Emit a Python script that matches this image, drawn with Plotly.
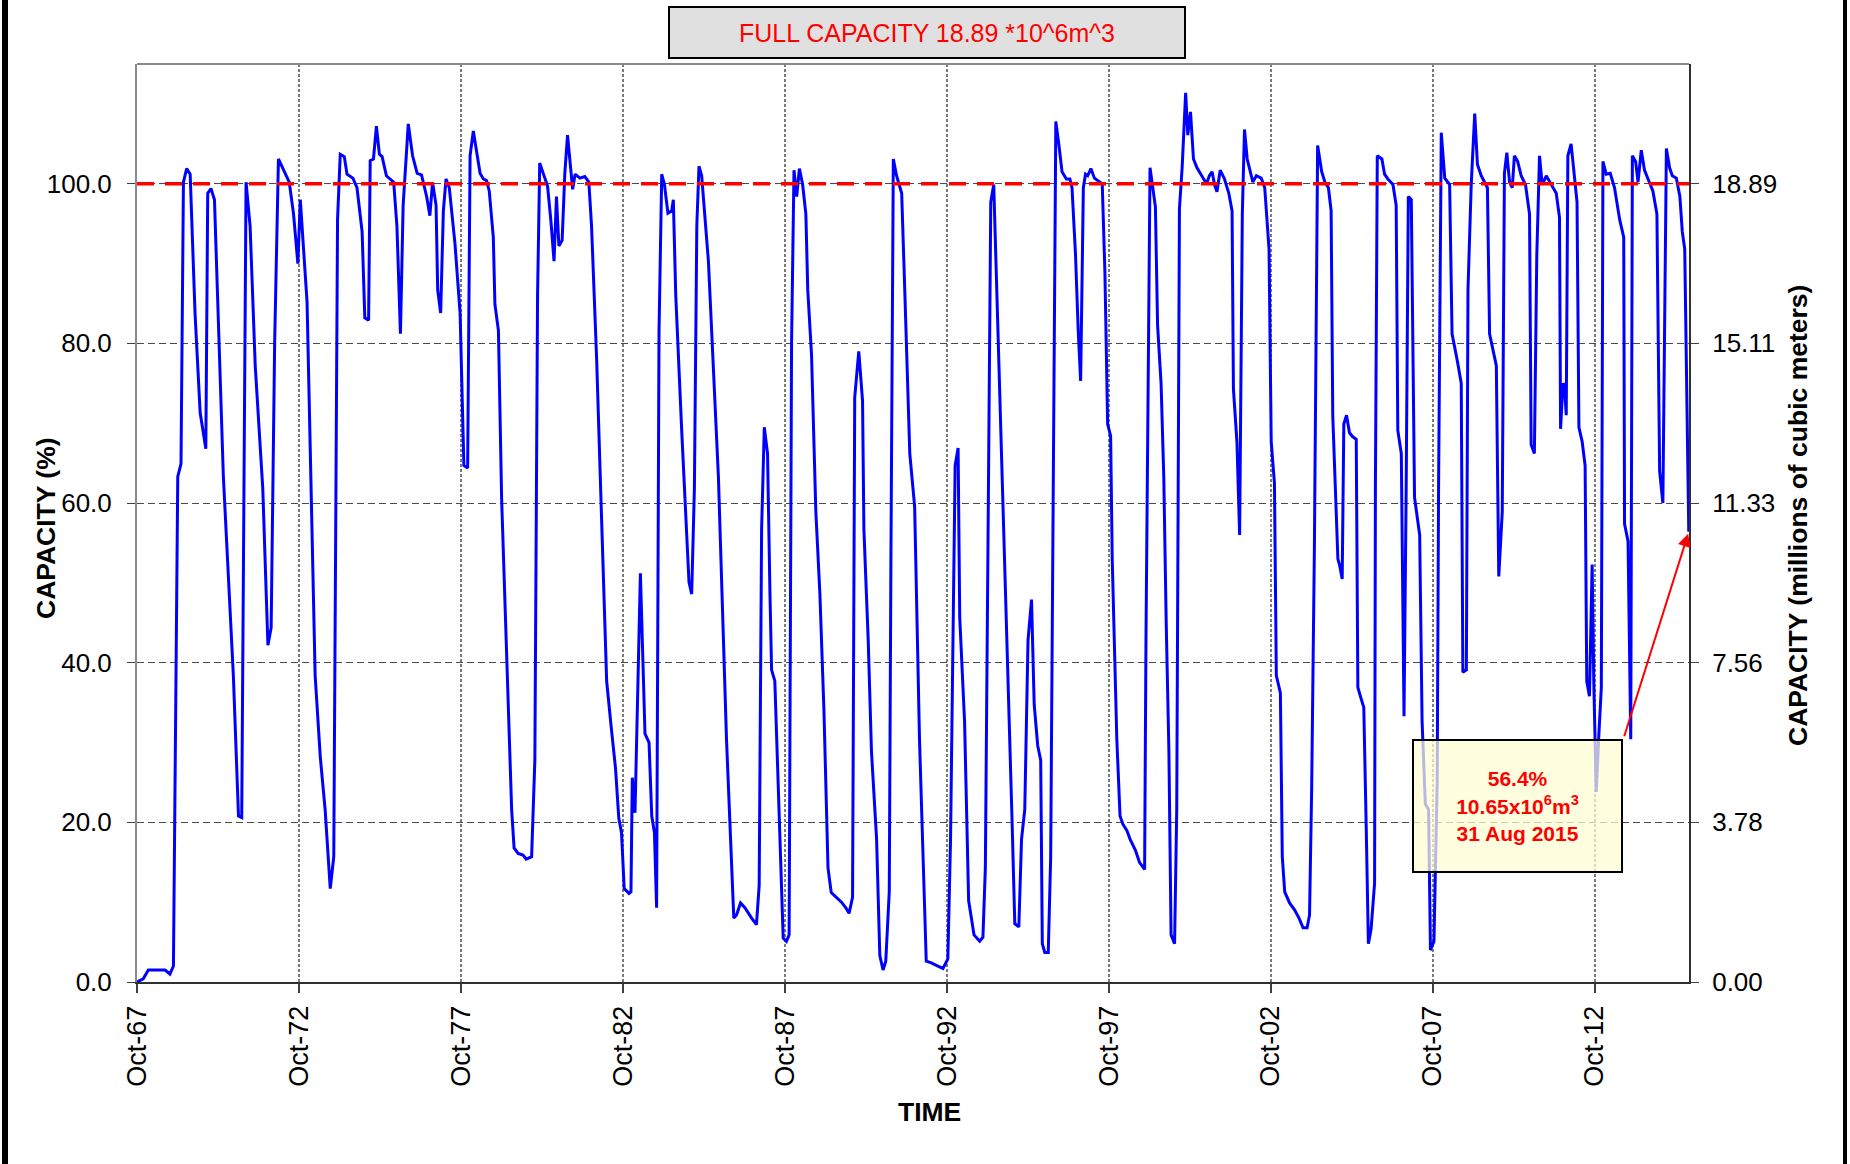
import numpy as np
import pandas as pd
import plotly.graph_objects as go

# ---------------- data ----------------
START = "1967-10-01"          # month offset 0
END = "2015-08-31"
# months elapsed since Oct-1967 at each reading
MONTHS = [
    0, 2.3, 4.2, 10.4, 12.2, 13.5, 15.1, 16.3, 17.2, 18.4,
    19.7, 21.5, 23.4, 25.5, 26.2, 27.4, 28.7, 32.0, 35.7, 37.6,
    38.8, 40.4, 41.9, 43.8, 46.6, 48.5, 49.7, 51.0, 52.4, 53.7,
    56.4, 58.0, 59.6, 60.5, 63.0, 66.0, 67.9, 69.7, 71.6, 72.9,
    74.3, 75.3, 76.8, 77.8, 80.0, 81.5, 83.4, 84.4, 85.8, 86.4,
    87.6, 88.7, 89.8, 90.8, 92.4, 95.1, 96.3, 97.6, 98.6, 100.5,
    102.1, 103.8, 105.4, 107.3, 108.5, 109.5, 110.8, 111.4, 112.5, 113.5,
    114.5, 115.7, 117.8, 119.7, 121.1, 122.5, 123.4, 124.6, 125.8, 127.1,
    128.3, 129.5, 130.5, 132.0, 132.6, 133.9, 135.1, 137.0, 138.8, 139.7,
    141.2, 143.0, 144.2, 146.2, 147.4, 148.4, 149.2, 150.5, 152.1, 153.3,
    154.5, 155.4, 156.3, 157.5, 158.5, 159.5, 161.4, 162.3, 164.1, 165.9,
    167.4, 168.4, 170.3, 172.1, 174.0, 175.6, 177.3, 178.5, 179.5, 180.5,
    182.3, 183.0, 183.5, 184.5, 186.5, 188.2, 189.7, 190.7, 191.7, 192.5,
    193.4, 194.4, 195.4, 196.7, 198.1, 198.7, 199.6, 201.8, 203.7, 204.5,
    205.5, 206.5, 207.4, 208.2, 209.2, 211.7, 215.4, 217.2, 218.4, 221.1,
    222.1, 223.6, 225.2, 227.7, 229.5, 230.5, 231.4, 232.4, 233.6, 234.5,
    235.1, 236.3, 238.2, 239.4, 240.6, 241.6, 242.5, 243.4, 244.4, 245.4,
    246.6, 247.8, 248.5, 249.9, 251.5, 253.0, 254.5, 256.0, 257.2, 259.1,
    261.0, 262.6, 263.8, 265.1, 265.9, 267.4, 268.8, 269.3, 270.9, 272.1,
    274.0, 275.2, 276.4, 277.4, 278.7, 279.3, 280.2, 281.4, 283.3, 284.5,
    286.3, 288.1, 289.9, 292.4, 294.3, 296.7, 298.6, 300.4, 301.4, 303.1,
    304.2, 304.8, 306.6, 308.1, 310.1, 312.2, 313.4, 314.3, 316.3, 317.4,
    319.0, 320.8, 322.7, 324.2, 325.2, 326.7, 327.7, 328.9, 330.1, 331.4,
    332.4, 333.7, 334.8, 335.4, 336.3, 337.6, 338.5, 339.4, 340.4, 341.5,
    342.7, 344.3, 345.6, 346.4, 347.7, 348.7, 349.6, 350.6, 351.4, 352.2,
    353.4, 354.7, 356.1, 357.6, 358.6, 359.6, 360.7, 361.3, 363.0, 364.2,
    365.2, 366.7, 367.9, 369.9, 371.4, 373.3, 373.8, 375.3, 377.3, 378.1,
    379.4, 380.4, 381.3, 382.3, 383.1, 384.4, 385.2, 386.2, 387.2, 388.5,
    389.3, 390.3, 391.4, 392.7, 394.3, 396.2, 397.3, 398.3, 399.2, 400.1,
    401.3, 402.9, 404.5, 405.7, 406.2, 407.5, 408.5, 408.8, 409.5, 410.3,
    411.3, 413.4, 414.7, 416.5, 417.8, 419.4, 420.2, 421.4, 422.1, 423.6,
    424.3, 425.2, 427.0, 428.9, 430.5, 432.0, 433.5, 434.4, 435.2, 436.2,
    437.4, 438.9, 440.1, 441.4, 442.4, 443.0, 444.9, 445.5, 446.5, 447.1,
    448.1, 449.2, 450.4, 451.7, 452.3, 453.5, 454.5, 455.4, 456.2, 457.2,
    458.5, 458.8, 459.5, 461.2, 462.2, 463.4, 465.3, 466.5, 467.1, 468.4,
    469.4, 470.2, 471.0, 472.1, 473.3, 475.2, 476.1, 477.3, 478.5, 479.2,
    480.5, 481.7, 482.2, 483.2, 484.5, 486.3, 487.2, 489.1, 490.6, 491.2,
    492.5, 493.1, 494.3, 495.6, 496.6, 498.0, 500.3, 501.1, 503.6, 504.5,
    505.8, 506.6, 507.5, 508.5, 509.5, 510.3, 511.5, 512.8, 514.4, 515.9,
    516.5, 517.7, 518.6, 519.6, 520.6, 522.1, 523.9, 525.8, 527.0, 527.4,
    528.3, 528.9, 529.5, 530.1, 531.3, 532.2, 533.5, 534.2, 535.4, 536.5,
    537.1, 538.1, 539.1, 539.7, 540.6, 541.6, 542.5, 543.1, 544.3, 545.8,
    547.4, 549.3, 550.8, 551.1, 552.4, 553.4, 554.0, 555.2, 556.1, 557.3,
    558.5, 559.8, 561.6, 563.1, 564.1, 565.3, 566.6, 567.8, 568.8, 570.3,
    571.6, 572.5, 573.4, 574.9,
]
# storage as % of full capacity
CAPACITY_PCT = [
    0.0, 0.4, 1.5, 1.5, 1.0, 2.0, 63.3, 64.9, 100.2, 101.9,
    101.2, 83.8, 71.3, 66.8, 98.8, 99.4, 98.0, 63.3, 38.4, 20.8,
    20.6, 100.2, 94.7, 77.2, 61.8, 42.2, 44.4, 80.1, 103.1, 102.2,
    100.2, 96.2, 90.0, 98.0, 85.2, 38.4, 28.2, 21.6, 11.7, 15.7,
    95.5, 103.7, 103.4, 101.2, 100.7, 99.5, 94.0, 83.2, 82.9, 102.9,
    103.1, 107.2, 103.7, 103.4, 101.0, 100.2, 94.7, 81.2, 97.3, 107.5,
    103.5, 101.3, 101.1, 98.4, 96.0, 100.2, 97.3, 86.7, 83.8, 96.6,
    100.6, 99.5, 92.5, 83.8, 64.7, 64.4, 103.5, 106.6, 104.2, 101.3,
    100.6, 100.4, 99.1, 93.3, 84.9, 81.6, 60.4, 39.1, 21.6, 16.8,
    16.1, 15.9, 15.4, 15.7, 27.8, 86.0, 102.6, 101.3, 99.7, 95.5,
    90.3, 98.4, 92.2, 92.9, 101.3, 106.1, 99.3, 101.2, 100.7, 100.9,
    100.2, 94.7, 77.9, 58.2, 37.7, 32.2, 26.7, 20.5, 18.7, 11.7,
    11.1, 11.3, 25.6, 21.2, 51.2, 31.1, 30.0, 20.8, 18.7, 9.3,
    81.6, 101.2, 99.9, 96.3, 96.6, 98.0, 86.0, 69.1, 54.5, 50.1,
    48.6, 61.8, 94.7, 102.2, 101.0, 90.3, 63.3, 42.8, 30.4, 8.0,
    8.4, 9.9, 9.3, 8.0, 7.2, 12.1, 56.7, 69.5, 66.2, 48.6,
    39.1, 37.7, 18.7, 5.5, 5.1, 5.9, 80.1, 101.7, 98.4, 101.9,
    99.9, 96.2, 86.7, 78.6, 58.9, 48.6, 34.0, 14.3, 11.2, 10.6,
    10.0, 9.3, 8.6, 10.6, 73.2, 79.0, 72.8, 56.7, 42.8, 28.9,
    17.9, 3.3, 1.5, 2.6, 11.3, 52.3, 103.1, 101.0, 98.8, 86.0,
    66.2, 59.6, 30.4, 2.6, 2.4, 2.0, 1.7, 2.9, 17.9, 64.7,
    66.9, 45.7, 32.6, 10.2, 5.9, 5.1, 5.6, 14.3, 97.7, 99.9,
    81.6, 58.2, 36.2, 20.1, 7.3, 6.9, 17.9, 21.6, 42.8, 47.9,
    34.7, 29.6, 27.8, 4.8, 3.7, 3.7, 15.7, 61.8, 107.8, 105.0,
    101.5, 100.6, 100.6, 99.5, 91.1, 81.6, 75.3, 99.5, 101.2, 101.0,
    101.9, 100.7, 100.4, 100.0, 88.8, 69.9, 68.4, 53.0, 30.4, 20.8,
    19.8, 19.0, 17.9, 16.5, 15.0, 14.1, 42.8, 102.0, 97.1, 82.3,
    75.0, 63.3, 45.0, 28.9, 5.9, 4.8, 21.6, 96.9, 102.0, 111.4,
    106.1, 109.0, 103.1, 102.0, 101.1, 100.0, 101.0, 101.5, 99.9, 99.0,
    101.7, 100.6, 98.8, 96.6, 74.3, 67.7, 56.0, 72.1, 96.2, 106.8,
    103.1, 100.2, 101.0, 100.7, 99.5, 91.8, 67.7, 62.5, 38.4, 36.2,
    15.7, 11.3, 9.9, 9.0, 8.0, 6.8, 6.8, 8.4, 24.5, 54.5,
    104.8, 101.5, 100.2, 99.5, 96.6, 71.0, 53.0, 52.3, 50.5, 69.9,
    71.0, 68.8, 68.3, 68.0, 36.9, 35.5, 34.4, 19.4, 4.8, 6.6,
    12.4, 61.8, 103.5, 103.1, 101.2, 100.6, 99.9, 97.3, 69.1, 66.2,
    33.3, 61.8, 98.4, 98.0, 60.7, 56.0, 32.6, 22.3, 21.6, 4.0,
    5.1, 25.2, 61.8, 106.4, 100.7, 99.9, 81.2, 77.9, 75.0, 38.8,
    39.1, 86.7, 99.9, 108.8, 102.4, 101.0, 99.5, 81.2, 77.2, 50.8,
    58.9, 101.3, 103.9, 100.2, 99.5, 103.5, 102.8, 101.0, 99.9, 96.2,
    67.3, 66.2, 91.1, 103.5, 99.9, 101.0, 99.9, 98.8, 95.8, 69.3,
    75.0, 74.6, 71.0, 103.5, 105.0, 102.0, 97.7, 69.5, 67.7, 64.7,
    37.7, 35.8, 52.3, 37.7, 23.8, 31.1, 36.9, 102.8, 101.2, 101.3,
    99.5, 95.5, 93.3, 57.4, 55.2, 30.4, 103.5, 102.8, 100.2, 104.2,
    101.7, 100.6, 99.1, 96.2, 64.0, 60.0, 104.4, 102.0, 101.0, 100.7,
    98.4, 94.0, 91.8, 56.4,
]

FULL_CAPACITY_MCM = 18.89          # 10^6 m^3
TICK_YEARS = [1967, 1972, 1977, 1982, 1987, 1992, 1997, 2002, 2007, 2012]
TICK_LABELS = ["Oct-67", "Oct-72", "Oct-77", "Oct-82", "Oct-87",
               "Oct-92", "Oct-97", "Oct-02", "Oct-07", "Oct-12"]
LEFT_TICKS = [0, 20, 40, 60, 80, 100]
RIGHT_TICK_LABELS = ["0.00", "3.78", "7.56", "11.33", "15.11", "18.89"]
Y_MAX_PCT = 115.0
LAST_PCT_TEXT = "56.4%"
LAST_VOL_TEXT = "10.65x10<sup>6</sup>m<sup>3</sup>"
LAST_DATE_TEXT = "31 Aug 2015"
TITLE_TEXT = "FULL CAPACITY 18.89 *10^6m^3"

# ---------------- figure ----------------
dates = pd.Timestamp(START) + pd.to_timedelta(np.array(MONTHS) * 30.4375, unit="D")
tickvals = [pd.Timestamp(f"{y}-10-01") for y in TICK_YEARS]
right_vals = [v / 100.0 * FULL_CAPACITY_MCM for v in LEFT_TICKS]

FONT = "Liberation Sans, Arial, sans-serif"
X_TICK_SIZE = 27
Y_TICK_SIZE = 26
TITLE_SIZE = 26.5

fig = go.Figure()
fig.add_trace(go.Scatter(
    x=dates, y=CAPACITY_PCT, mode="lines",
    line=dict(color="#0000FF", width=3), hoverinfo="skip", yaxis="y"))
fig.add_trace(go.Scatter(
    x=[pd.Timestamp(START), pd.Timestamp(END)],
    y=[FULL_CAPACITY_MCM, FULL_CAPACITY_MCM], mode="lines",
    line=dict(color="#FF0000", width=3.5, dash="17px,11px"),
    hoverinfo="skip", yaxis="y2"))

W, H = 1850, 1164
L, R, T, B = 137, 1689, 64, 982
pw, ph = R - L, B - T


def px(xp):
    return (xp - L) / pw


def py(yp):
    return (B - yp) / ph


fig.update_layout(
    width=W, height=H, autosize=False,
    margin=dict(l=L, r=W - R, t=T, b=H - B, pad=0),
    paper_bgcolor="white", plot_bgcolor="white",
    showlegend=False,
    font=dict(family=FONT, size=Y_TICK_SIZE, color="black"),
    xaxis=dict(
        type="date", range=[pd.Timestamp(START), pd.Timestamp(END)],
        tickmode="array", tickvals=tickvals, ticktext=TICK_LABELS,
        tickangle=-90, ticks="outside", ticklen=9, tickcolor="#404040",
        tickwidth=1.5, ticklabelstandoff=2,
        showline=True, linecolor="#303030", linewidth=2, mirror=False,
        showgrid=True, gridcolor="#7a7a7a", gridwidth=1.6, griddash="3px,2px",
        zeroline=False, tickfont=dict(size=X_TICK_SIZE, family=FONT),
    ),
    yaxis=dict(
        range=[0, Y_MAX_PCT], tickmode="array", tickvals=LEFT_TICKS,
        tickformat=".1f", ticks="outside", ticklen=8, tickcolor="#404040",
        ticklabelstandoff=10,
        showline=True, linecolor="#8a8a8a", linewidth=2,
        showgrid=True, gridcolor="#4a4a4a", gridwidth=1, griddash="7px,4px",
        zeroline=False, tickfont=dict(size=Y_TICK_SIZE, family=FONT),
    ),
    yaxis2=dict(
        range=[0, Y_MAX_PCT / 100.0 * FULL_CAPACITY_MCM], overlaying="y",
        side="right", anchor="x", tickmode="array", tickvals=right_vals,
        ticktext=RIGHT_TICK_LABELS, ticks="outside", ticklen=8,
        tickcolor="#404040", ticklabelstandoff=8,
        showline=True, linecolor="#303030", linewidth=2,
        showgrid=False, zeroline=False,
        tickfont=dict(size=Y_TICK_SIZE, family=FONT),
    ),
)

shapes = [
    # top frame line of plot area
    dict(type="line", xref="paper", yref="paper", x0=0, x1=1, y0=1, y1=1,
         line=dict(color="#8a8a8a", width=2)),
    # outer chart border (left / right)
    dict(type="line", xref="paper", yref="paper", x0=px(5), x1=px(5),
         y0=py(0), y1=py(H), line=dict(color="black", width=6)),
    dict(type="line", xref="paper", yref="paper", x0=px(1845), x1=px(1845),
         y0=py(0), y1=py(H), line=dict(color="black", width=4)),
]
fig.update_layout(shapes=shapes)

ann = [
    # title box
    dict(xref="paper", yref="paper", x=px(927), y=py(32.5),
         xanchor="center", yanchor="middle", showarrow=False,
         text=TITLE_TEXT, font=dict(color="#FF0000", size=25, family=FONT),
         bgcolor="#E0E0E0", bordercolor="black", borderwidth=2, borderpad=1,
         width=512, height=47, align="center", valign="middle"),
    # axis titles
    dict(xref="paper", yref="paper", x=px(46), y=py(528), textangle=-90,
         xanchor="center", yanchor="middle", showarrow=False,
         text="<b>CAPACITY (%)</b>", font=dict(size=TITLE_SIZE, family=FONT)),
    dict(xref="paper", yref="paper", x=px(1798), y=py(516), textangle=-90,
         xanchor="center", yanchor="middle", showarrow=False,
         text="<b>CAPACITY (millions of cubic meters)</b>",
         font=dict(size=TITLE_SIZE, family=FONT)),
    dict(xref="paper", yref="paper", x=px(930), y=py(1112),
         xanchor="center", yanchor="middle", showarrow=False,
         text="<b>TIME</b>", font=dict(size=TITLE_SIZE, family=FONT)),
    # value box
    dict(xref="paper", yref="paper", x=px(1517.5), y=py(806),
         xanchor="center", yanchor="middle", showarrow=False,
         text=f"<b>{LAST_PCT_TEXT}<br>{LAST_VOL_TEXT}<br>{LAST_DATE_TEXT}</b>",
         font=dict(color="#FF0000", size=21, family=FONT),
         bgcolor="rgba(255,255,212,0.72)", bordercolor="black",
         borderwidth=2, borderpad=1, width=205, height=128,
         align="center", valign="middle"),
    # arrow to last reading
    dict(x=dates[-1], y=CAPACITY_PCT[-1], xref="x", yref="y",
         ax=-65, ay=206, axref="pixel", ayref="pixel", text="",
         showarrow=True, arrowhead=2, arrowsize=1.3, arrowwidth=2,
         arrowcolor="#FF0000", standoff=2),
]
fig.update_layout(annotations=ann)

fig.write_html(
    "out.html",
    config={"displayModeBar": False},
    post_script="document.body.style.margin='0px';"
                "document.body.style.overflow='hidden';",
)
